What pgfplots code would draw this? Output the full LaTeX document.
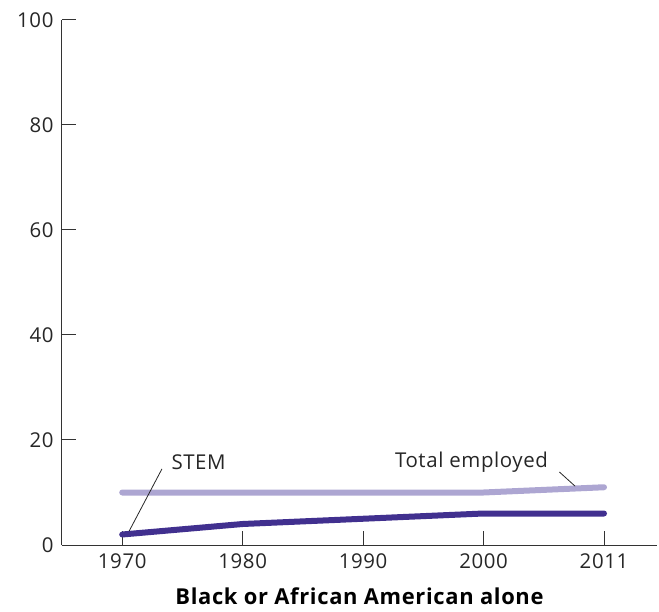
\documentclass[border=0pt]{standalone}
\usepackage{pgfplots}
\pgfplotsset{compat=1.18}
\usepackage{fontspec}
\setmainfont{Open Sans}[LetterSpace=3]
\definecolor{stem}{HTML}{41308F}
\definecolor{tot}{HTML}{ADA6D2}
\definecolor{ax}{HTML}{333333}
\begin{document}
\begin{tikzpicture}[x=1bp,y=1bp]
\begin{axis}[
  scale only axis, width=595bp, height=525bp,
  xmin=-0.5, xmax=4.44, ymin=0, ymax=100,
  axis x line*=bottom, axis y line*=left,
  axis line style={ax, line width=1bp, -},
  xtick={0,1,2,3,4}, xticklabels={1970,1980,1990,2000,2011},
  ytick={0,20,40,60,80,100},
  tick style={ax, line width=1bp},
  major tick length=14bp,
  xtick align=inside, ytick align=inside,
  tick label style={font=\fontsize{20.5}{24}\selectfont, text=black!85},
  xticklabel style={yshift=-5bp},
  yticklabel style={xshift=-5bp},
  /pgf/number format/assume math mode=true,
  xlabel={\bfseries Black or African American alone},
  xlabel style={font=\fontsize{22}{26}\selectfont, text=black, yshift=-12bp},
  clip=false,
]
\addplot[tot, line width=6bp, line cap=round] coordinates {(0,10) (1,10) (2,10) (3,10) (4,11)};
\addplot[stem, line width=6bp, line cap=round] coordinates {(0,2) (1,4) (2,5) (3,6) (4,6)};
\draw[black!85, line width=0.8bp] (axis cs:0.058,2.67) -- (axis cs:0.33,14.5);
\draw[black!85, line width=0.8bp] (axis cs:3.63,13.9) -- (axis cs:3.76,11.2);
\node[anchor=west, font=\fontsize{20.5}{24}\selectfont, text=black!85] at (axis cs:0.38,15.8) {STEM};
\node[font=\fontsize{20.5}{24}\selectfont, text=black!85] at (axis cs:2.90,15.8) {Total employed};
\path (rel axis cs:0,0) ++(-62bp,-67bp);
\path (rel axis cs:1,1) ++(2bp,20bp);
\end{axis}
\end{tikzpicture}
\end{document}
